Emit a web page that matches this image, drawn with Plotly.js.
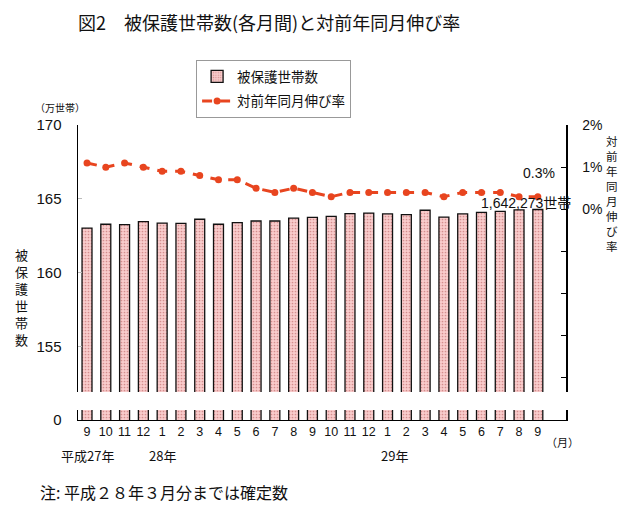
<!DOCTYPE html>
<html>
<head>
<meta charset="utf-8">
<script src="https://cdn.plot.ly/plotly-3.0.1.min.js"></script>
<style>html,body{margin:0;padding:0;background:#fff;}#chart{width:640px;height:506px;}</style>
</head>
<body>
<div id="chart"></div>
<script>
// Month tick labels (平成27年9月 〜 平成29年9月)
var months = ["9","10","11","12","1","2","3","4","5","6","7","8","9","10","11","12","1","2","3","4","5","6","7","8","9"];
// 被保護世帯数 (万世帯)
var households = [163.01,163.27,163.24,163.45,163.35,163.33,163.61,163.27,163.38,163.49,163.49,163.69,163.74,163.81,163.99,164.03,163.97,163.93,164.22,163.76,163.97,164.08,164.15,164.24,164.27];
// 対前年同月伸び率 (%)
var growth = [1.1,1.0,1.1,1.0,0.9,0.9,0.8,0.7,0.7,0.5,0.4,0.5,0.4,0.3,0.4,0.4,0.4,0.4,0.4,0.3,0.4,0.4,0.4,0.3,0.3];
// Left axis tick labels (broken axis: bottom shows 0)
var leftTickVals = [150,155,160,165,170];
var leftTickText = ["0","155","160","165","170"];
var rightTickVals = [-5,-4,-3,-2,-1,0,1,2];
var rightTickText = ["","","","","","0%","1%","2%"];

var idx = months.map(function(m,i){return i;});
var F = "Liberation Sans, Arial, 'Noto Sans CJK JP', sans-serif";
var J = "'Noto Sans CJK JP', sans-serif";

var traces = [
  {
    type:"bar", name:"被保護世帯数", x: idx, y: households, yaxis:"y",
    legendgroup:"a",
    marker:{color:"#f8c2c2", line:{color:"#111", width:1.3},
            pattern:{shape:".", fgcolor:"#d48e8e", bgcolor:"#f9cccc", size:3, solidity:0.25}},
    hoverinfo:"skip"
  },
  {
    type:"scatter", mode:"lines+markers", name:"対前年同月伸び率", x: idx, y: growth, yaxis:"y2",
    legendgroup:"b",
    line:{color:"#e8451f", width:3, dash:"10px,8px"},
    marker:{color:"#e8451f", size:7},
    hoverinfo:"skip"
  }
];

var layout = {
  width:640, height:506,
  margin:{l:78, r:74, t:125, b:86, pad:0},
  paper_bgcolor:"#fff", plot_bgcolor:"#fff",
  font:{family:F, color:"#111"},
  showlegend:true,
  bargap:0.47,
  legend:{x:0.242, xanchor:"left", y:1.22, yanchor:"top",
          bordercolor:"#999", borderwidth:1, bgcolor:"#fff",
          font:{family:J, size:13.5, color:"#111"},
          traceorder:"grouped", tracegroupgap:4},
  xaxis:{range:[-0.48,25.5], tickmode:"array", tickvals: idx, ticktext: months,
         showgrid:false, zeroline:false, showline:true, linecolor:"#000", linewidth:1,
         ticks:"", tickfont:{size:12.5, family:F}, fixedrange:true},
  yaxis:{range:[150,170], tickmode:"array", tickvals: leftTickVals, ticktext: leftTickText,
         showgrid:false, zeroline:false, showline:true, linecolor:"#000", linewidth:1.5,
         ticks:"inside", ticklen:4, tickcolor:"#bbb", ticklabelstandoff:12,
         tickfont:{size:15, family:F}},
  yaxis2:{range:[-5,2], overlaying:"y", side:"right", tickmode:"array",
          tickvals: rightTickVals, ticktext: rightTickText,
          showgrid:false, zeroline:false, showline:true, linecolor:"#000", linewidth:1.5,
          ticks:"inside", ticklen:5, tickcolor:"#000", ticklabelstandoff:12,
          tickfont:{size:14, family:F}},
  shapes:[
    {type:"rect", layer:"above", xref:"paper", yref:"paper", x0:-0.03, x1:1.03, y0:0.034, y1:0.095,
     fillcolor:"#fff", line:{width:0}}
  ],
  annotations:[
    {text:"図2　被保護世帯数(各月間)と対前年同月伸び率", xref:"paper", yref:"paper", x:-0.005, y:1.349,
     xanchor:"left", yanchor:"middle", showarrow:false, font:{family:J, size:18, color:"#111"}},
    {text:"（万世帯）", xref:"paper", yref:"paper", x:-0.037, y:1.061, xanchor:"center", yanchor:"middle",
     showarrow:false, font:{family:J, size:10, color:"#111"}},
    {text:"被<br>保<br>護<br>世<br>帯<br>数", xref:"paper", yref:"paper", x:-0.115, y:0.417,
     xanchor:"center", yanchor:"middle", showarrow:false, font:{family:J, size:13, color:"#111"}},
    {text:"対<br>前<br>年<br>同<br>月<br>伸<br>び<br>率", xref:"paper", yref:"paper", x:1.094, y:0.768,
     xanchor:"center", yanchor:"middle", showarrow:false, font:{family:J, size:11.5, color:"#111"}},
    {text:"0.3%", xref:"x", yref:"paper", x:24.05, y:(420-173)/295, xanchor:"center", yanchor:"middle",
     showarrow:false, font:{family:F, size:14, color:"#111"}},
    {text:"1,642,273世帯", xref:"x", yref:"paper", x:23.35, y:(420-203)/295, xanchor:"center", yanchor:"middle",
     showarrow:false, font:{family:F, size:14, color:"#111"}},
    {text:"平成27年", xref:"x", yref:"paper", x:0, y:-0.119, xanchor:"center", yanchor:"middle",
     showarrow:false, font:{family:J, size:13, color:"#111"}},
    {text:"28年", xref:"x", yref:"paper", x:4, y:-0.119, xanchor:"center", yanchor:"middle",
     showarrow:false, font:{family:J, size:13, color:"#111"}},
    {text:"29年", xref:"x", yref:"paper", x:16.35, y:-0.119, xanchor:"center", yanchor:"middle",
     showarrow:false, font:{family:J, size:13, color:"#111"}},
    {text:"（月）", xref:"x", yref:"paper", x:25.3, y:-0.075, xanchor:"center", yanchor:"middle",
     showarrow:false, font:{family:J, size:11, color:"#111"}},
    {text:"注: 平成２８年３月分までは確定数", xref:"paper", yref:"paper", x:-0.082, y:-0.244,
     xanchor:"left", yanchor:"middle", showarrow:false, font:{family:J, size:16, color:"#111"}}
  ]
};

Plotly.newPlot("chart", traces, layout, {staticPlot:true, displayModeBar:false});
</script>
</body>
</html>
